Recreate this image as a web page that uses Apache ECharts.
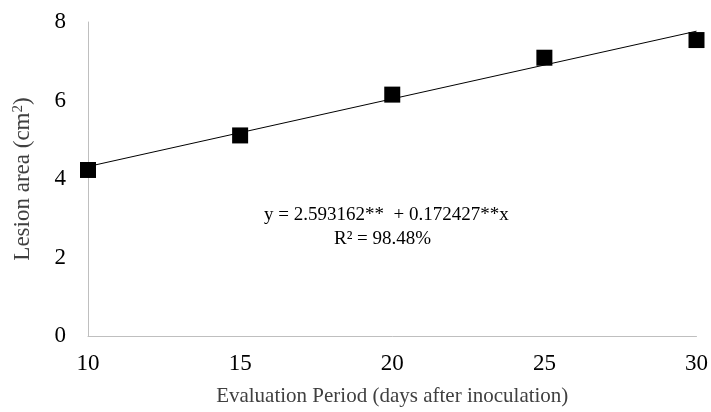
<!DOCTYPE html>
<html>
<head>
<meta charset="utf-8">
<script src="https://cdn.jsdelivr.net/npm/echarts@6/dist/echarts.min.js"></script>
<style>
  html, body { margin: 0; padding: 0; background: #fff; }
  #main { width: 711px; height: 412px; }
</style>
</head>
<body>
<div id="main"></div>
<script>
// observed lesion area per evaluation day
var days = [10, 15, 20, 25, 30];
var lesionArea = [4.23, 5.11, 6.15, 7.09, 7.54];
// fitted regression y = a + b*x
var fitA = 2.593162;
var fitB = 0.172427;
var fitX = [10, 30];
var eqLines = ['y = 2.593162**  + 0.172427**x', 'R² = 98.48%'];

var font = '"Liberation Serif", "Times New Roman", serif';

var fitData = fitX.map(function (x) { return [x, fitA + fitB * x]; });
var pts = days.map(function (d, i) { return [d, lesionArea[i]]; });

var myChart = echarts.init(document.getElementById('main'));
var option = {
    animation: false,
    backgroundColor: '#fff',
    grid: { left: 88, right: 14, top: 22, bottom: 74 },
    xAxis: {
        type: 'value',
        min: 10, max: 30, interval: 5,
        name: 'Evaluation Period (days after inoculation)',
        nameLocation: 'middle',
        nameGap: 50,
        nameTextStyle: { fontFamily: font, fontSize: 21, color: '#404040' },
        axisLine: { lineStyle: { color: '#bfbfbf', width: 1 } },
        axisTick: { show: false },
        axisLabel: { fontFamily: font, fontSize: 23, color: '#000', margin: 16 },
        splitLine: { show: false }
    },
    yAxis: {
        type: 'value',
        min: 0, max: 8, interval: 2,
        name: '{t|Lesion area (cm}{s|2}{t|)}',
        nameLocation: 'middle',
        nameGap: 53,
        nameTextStyle: {
            fontFamily: font, fontSize: 23, color: '#404040',
            rich: {
                t: { fontFamily: font, fontSize: 23, color: '#404040' },
                s: { fontFamily: font, fontSize: 15, color: '#404040', verticalAlign: 'top', padding: [0, 0, 9, 0] }
            }
        },
        axisLine: { show: true, lineStyle: { color: '#bfbfbf', width: 1 } },
        axisTick: { show: false },
        axisLabel: { fontFamily: font, fontSize: 23, color: '#000', margin: 22 },
        splitLine: { show: false }
    },
    series: [
        {
            type: 'line',
            data: fitData,
            symbol: 'none',
            lineStyle: { color: '#000', width: 1 },
            z: 2
        },
        {
            type: 'scatter',
            data: pts,
            symbol: 'rect',
            symbolSize: 16,
            itemStyle: { color: '#000', opacity: 1 },
            z: 3
        }
    ],
    graphic: [
        {
            type: 'text',
            left: 264, top: 206,
            style: { text: eqLines[0], font: '19px ' + font, fill: '#000' }
        },
        {
            type: 'text',
            left: 334, top: 230,
            style: { text: eqLines[1], font: '19px ' + font, fill: '#000' }
        }
    ]
};
myChart.setOption(option);
</script>
</body>
</html>
